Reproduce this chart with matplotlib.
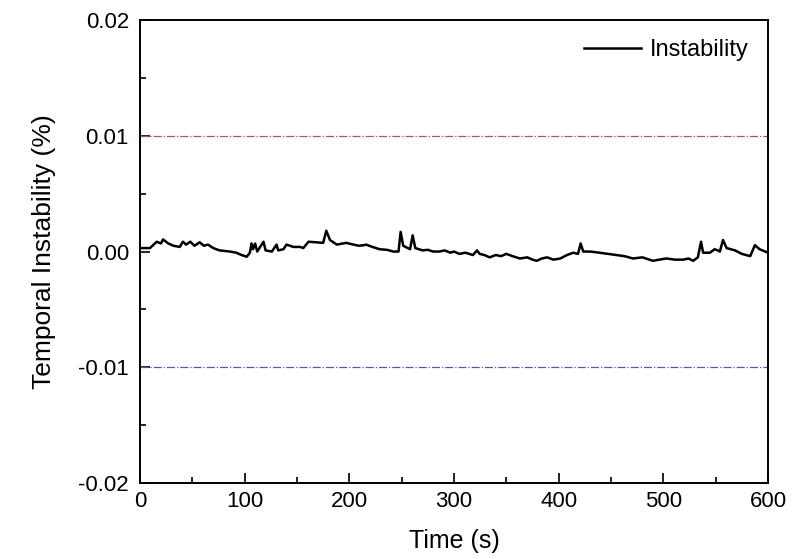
import matplotlib
matplotlib.use("Agg")
import matplotlib.pyplot as plt
from matplotlib.ticker import MultipleLocator

plt.rcParams['font.family'] = ['Liberation Sans', 'DejaVu Sans']

# values (time in s, instability in %)
time_s = [0, 9.5, 16, 20, 22, 27, 32, 38, 41, 44, 48, 52, 57, 61, 65, 70, 76, 81, 86, 92, 97,
          102, 105, 106.5, 108, 110, 112, 118, 120, 126, 130.5, 132, 137, 140, 146.5, 153,
          156, 161, 168, 175, 178, 181.5, 188, 197, 204, 209, 214, 216, 222, 229, 236, 242, 247,
          249, 251.5, 258, 260.5, 263, 270, 275, 280, 286, 291, 296.5, 300, 305, 311, 318, 322,
          324.5, 329, 334, 340, 345, 350, 356, 363, 370, 375, 379, 384, 389, 395, 401.5,
          408, 414, 418.5, 421, 423.5, 430, 439, 447, 455, 463, 471, 480, 490, 496, 503, 511,
          519, 524, 528.5, 533, 536, 538, 544.5, 549, 552, 554, 557, 560.5, 568.5, 575, 583,
          587.5, 592, 600]
instability = [0.0003, 0.0003, 0.00085, 0.0007, 0.00105, 0.0007, 0.0005, 0.0004, 0.00085,
               0.0006, 0.00085, 0.0005, 0.0008, 0.0005, 0.0006, 0.0003, 0.0001, 0.00005, 0.0,
               -0.0001, -0.0003, -0.00045, -0.0001, 0.0007, 0.0002, 0.0007, 0.0, 0.00085,
               0.0001, 0.0, 0.0006, 0.0001, 0.0002, 0.0006, 0.0004, 0.0004, 0.0003, 0.00085,
               0.0008, 0.00075, 0.0018, 0.001, 0.0006, 0.00075, 0.0006, 0.0005, 0.00055, 0.0006,
               0.0004, 0.0002, 0.00015, 0.0, 0.0, 0.0017, 0.0005, 0.0002, 0.0014, 0.0003, 0.0001,
               0.00015, 0.0, 0.0, 0.0001, -0.0001, 0.0, -0.0002, -0.0001, -0.0003, 0.0001,
               -0.0002, -0.0003, -0.0005, -0.0003, -0.0004, -0.0002, -0.0004, -0.0006, -0.0005,
               -0.0007, -0.0008, -0.0006, -0.0005, -0.0007, -0.0006, -0.0003, -0.0001, -0.0002,
               0.0007, 0.0, 0.0, -0.0001, -0.0002, -0.0003, -0.0004, -0.0006, -0.0005, -0.0008,
               -0.0007, -0.0006, -0.0007, -0.0007, -0.0006, -0.0008, -0.0005, 0.00085, -0.0001,
               -0.0001, 0.0002, 0.0001, 0.0, 0.001, 0.0003, 0.0001, -0.0002, -0.0004, 0.00055,
               0.0002, -0.0001]

upper_limit = 0.01
lower_limit = -0.01

fig = plt.figure(figsize=(8, 5.59), dpi=100)
ax = fig.add_axes([0.175, 0.136, 0.785, 0.828])

ax.plot(time_s, instability, color='black', lw=1.8, label='Instability')
ax.axhline(upper_limit, color='#c05050', lw=0.9, ls='-.')
ax.axhline(lower_limit, color='#5a5a9a', lw=0.9, ls='-.')

ax.set_xlim(0, 600)
ax.set_ylim(-0.02, 0.02)
ax.xaxis.set_major_locator(MultipleLocator(100))
ax.xaxis.set_minor_locator(MultipleLocator(50))
ax.yaxis.set_major_locator(MultipleLocator(0.01))
ax.yaxis.set_minor_locator(MultipleLocator(0.005))
ax.yaxis.set_major_formatter(plt.FormatStrFormatter('%.2f'))

ax.tick_params(which='both', direction='in', labelsize=16, width=1.2)
ax.tick_params(which='major', length=7)
ax.tick_params(axis='y', which='major', pad=8)
ax.tick_params(axis='x', which='major', pad=6)
ax.tick_params(which='minor', length=4)
for s in ax.spines.values():
    s.set_linewidth(1.4)

ax.set_xlabel('Time (s)', fontsize=18, labelpad=12)
ax.set_ylabel('Temporal Instability (%)', fontsize=19, labelpad=16)

ax.legend(loc='upper right', frameon=False, fontsize=17, handlelength=2.4,
          handletextpad=0.4, borderaxespad=0.4)

fig.savefig('out.png', dpi=100)
